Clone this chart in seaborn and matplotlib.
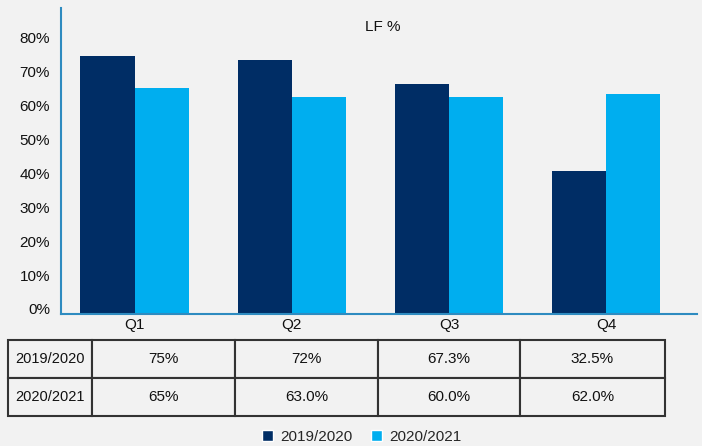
import matplotlib
matplotlib.use("Agg")
import matplotlib.pyplot as plt
import matplotlib.transforms as mtransforms
import seaborn as sns
import pandas as pd
from matplotlib.patches import Patch

quarters = ["Q1", "Q2", "Q3", "Q4"]
series_names = ["2019/2020", "2020/2021"]
lf_2019 = [76.1, 74.9, 67.8, 42.2]
lf_2020 = [66.7, 64.0, 64.0, 64.9]
table_2019 = ["75%", "72%", "67.3%", "32.5%"]
table_2020 = ["65%", "63.0%", "60.0%", "62.0%"]
colors = ["#002D65", "#00AEEF"]
bg = "#F2F2F2"

rows = []
for q, a, b in zip(quarters, lf_2019, lf_2020):
    rows.append({"Quarter": q, "Season": series_names[0], "LF": a / 100})
    rows.append({"Quarter": q, "Season": series_names[1], "LF": b / 100})
df = pd.DataFrame(rows)

sns.set_style("white")
plt.rcParams["font.family"] = ["Liberation Sans", "DejaVu Sans"]

W, H = 702, 446
fig = plt.figure(figsize=(W / 100, H / 100), dpi=100, facecolor=bg)

ax = fig.add_axes([61 / W, 1 - 314 / H, (697 - 61) / W, (314 - 8) / H])
ax.set_facecolor(bg)
sns.barplot(data=df, x="Quarter", y="LF", hue="Season", palette=colors,
            width=0.69, ax=ax, legend=False, saturation=1, linewidth=0,
            edgecolor="none")
ax.set_ylim(0, 0.9027)
ax.set_xlim(-0.468, 3.578)
ax.set_yticks([i / 10 for i in range(9)])
ax.set_yticklabels([f"{i * 10}%" for i in range(9)], fontsize=11, color="#111111")
ax.tick_params(axis="x", labelsize=11, length=0, pad=3, colors="#111111")
ax.tick_params(axis="y", length=0, pad=8)
off = mtransforms.ScaledTranslation(0, 5 / 100, fig.dpi_scale_trans)
for lab in ax.get_yticklabels():
    lab.set_transform(lab.get_transform() + off)
ax.set_xlabel("")
ax.set_ylabel("")
for s in ["top", "right"]:
    ax.spines[s].set_visible(False)
for s in ["left", "bottom"]:
    ax.spines[s].set_color("#2E8BC0")
    ax.spines[s].set_linewidth(1.5)
ax.text((383 - 61) / (697 - 61), (314 - 27) / 306, "LF %", transform=ax.transAxes,
        ha="center", va="center", fontsize=11, color="#111111")

# table
tx0, tx1, ty0, ty1 = 8, 665, 340, 416
tax = fig.add_axes([tx0 / W, 1 - ty1 / H, (tx1 - tx0) / W, (ty1 - ty0) / H])
tax.axis("off")
cell_text = [[series_names[0]] + table_2019, [series_names[1]] + table_2020]
widths = [84, 143, 143, 142, 145]
tot = sum(widths)
tbl = tax.table(cellText=cell_text, colWidths=[w / tot for w in widths],
                cellLoc="center", bbox=[0, 0, 1, 1])
tbl.auto_set_font_size(False)
for (r, c), cell in tbl.get_celld().items():
    cell.set_facecolor(bg)
    cell.set_edgecolor("#333333")
    cell.set_linewidth(1.5)
    cell.get_text().set_fontsize(11 if c > 0 else 10.5)
    cell.get_text().set_color("#111111")

handles = [Patch(facecolor=colors[0], label=series_names[0]),
           Patch(facecolor=colors[1], label=series_names[1])]
fig.legend(handles=handles, loc="center", bbox_to_anchor=(362 / W, 1 - 437 / H),
           ncol=2, frameon=False, fontsize=11, handlelength=0.7, handleheight=0.7,
           handletextpad=0.5, columnspacing=1.2)

fig.savefig("out.png", dpi=100, facecolor=bg)
